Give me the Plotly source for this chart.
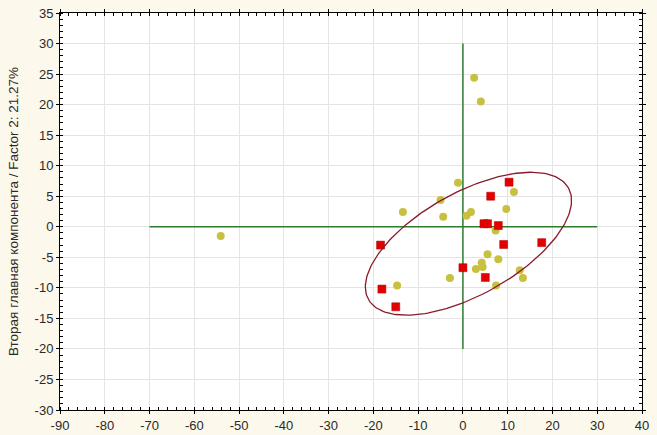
import numpy as np
import plotly.graph_objects as go

# yellow group (factor 1, factor 2 scores)
yellow_x = [2.5, 4.0, -1.1, -5.0, -13.4, -4.4, 0.8, 1.8, 11.4, 9.7, 7.3, 5.5, 7.9,
            4.2, 4.4, 2.9, -2.9, -14.7, 7.4, 12.7, 13.4, -54.1]
yellow_y = [24.4, 20.5, 7.2, 4.4, 2.4, 1.65, 1.8, 2.4, 5.7, 2.9, -0.6, -4.5, -5.3,
            -5.9, -6.6, -6.9, -8.4, -9.6, -9.6, -7.1, -8.4, -1.5]

# red group
red_x = [10.3, 6.2, 4.7, 5.5, 7.9, -18.4, 9.1, 17.6, 0.0, 5.0, -18.1, -15.0]
red_y = [7.3, 5.0, 0.5, 0.5, 0.2, -3.0, -2.9, -2.6, -6.7, -8.3, -10.2, -13.1]

# reference cross lines
h_line_x = [-70, 30]
v_line_y = [-20, 30]

x_ticks = list(range(-90, 41, 10))
y_ticks = list(range(-30, 36, 5))
y_title = "Вторая главная компонента / Factor 2: 21.27%"

# confidence ellipse around the red group
k = 1.94
pts = np.array([red_x, red_y])
center = pts.mean(axis=1)
vals, vecs = np.linalg.eigh(np.cov(pts))
t = np.linspace(0, 2 * np.pi, 200)
circle = np.array([np.cos(t), np.sin(t)])
ell = vecs @ (np.sqrt(vals)[:, None] * circle) * k + center[:, None]

fig = go.Figure()
fig.add_trace(go.Scatter(x=h_line_x, y=[0, 0], mode="lines",
                         line=dict(color="#2e7d2e", width=1.5)))
fig.add_trace(go.Scatter(x=[0, 0], y=v_line_y, mode="lines",
                         line=dict(color="#2e7d2e", width=1.5)))
fig.add_trace(go.Scatter(x=yellow_x, y=yellow_y, mode="markers",
                         marker=dict(symbol="circle", size=8, color="#c8c040",
                                     line=dict(width=0))))
fig.add_trace(go.Scatter(x=red_x, y=red_y, mode="markers",
                         marker=dict(symbol="square", size=8, color="#e40000",
                                     line=dict(width=0.5, color="#b00000"))))
fig.add_trace(go.Scatter(x=ell[0], y=ell[1], mode="lines",
                         line=dict(color="#8a1a2a", width=1.3)))

font = dict(family="Liberation Sans, Arial", size=13, color="#2a2a2a")
axis_common = dict(
    showgrid=True, gridcolor="#e4e4e4", gridwidth=1, automargin=False,
    zeroline=False, showline=True, linecolor="black", linewidth=1,
    mirror="ticks", ticks="outside", ticklen=3, tickcolor="black",
    tickfont=font,
)

fig.update_xaxes(range=[-90, 40], tickvals=x_ticks, ticktext=[str(v) for v in x_ticks],
                 minor=dict(dtick=2, ticks="inside", ticklen=3, tickcolor="black", showgrid=False),
                 **axis_common)
fig.update_yaxes(range=[-30, 35], tickvals=y_ticks, ticktext=[str(v) for v in y_ticks],
                 minor=dict(dtick=1, ticks="inside", ticklen=3, tickcolor="black", showgrid=False),
                 title=dict(text=y_title, standoff=12,
                            font=dict(family="Liberation Sans, Arial", size=13.5, color="#2a2a2a")),
                 **axis_common)

fig.update_layout(
    width=657, height=435,
    margin=dict(l=60, r=15, t=13, b=25),
    paper_bgcolor="#fcf8ec",
    plot_bgcolor="white",
    showlegend=False,
)

# drop the default page margin so the figure sits at the window corner
fig.write_html("out.html", config={"displayModeBar": False},
               post_script="document.body.style.margin='0px';")
